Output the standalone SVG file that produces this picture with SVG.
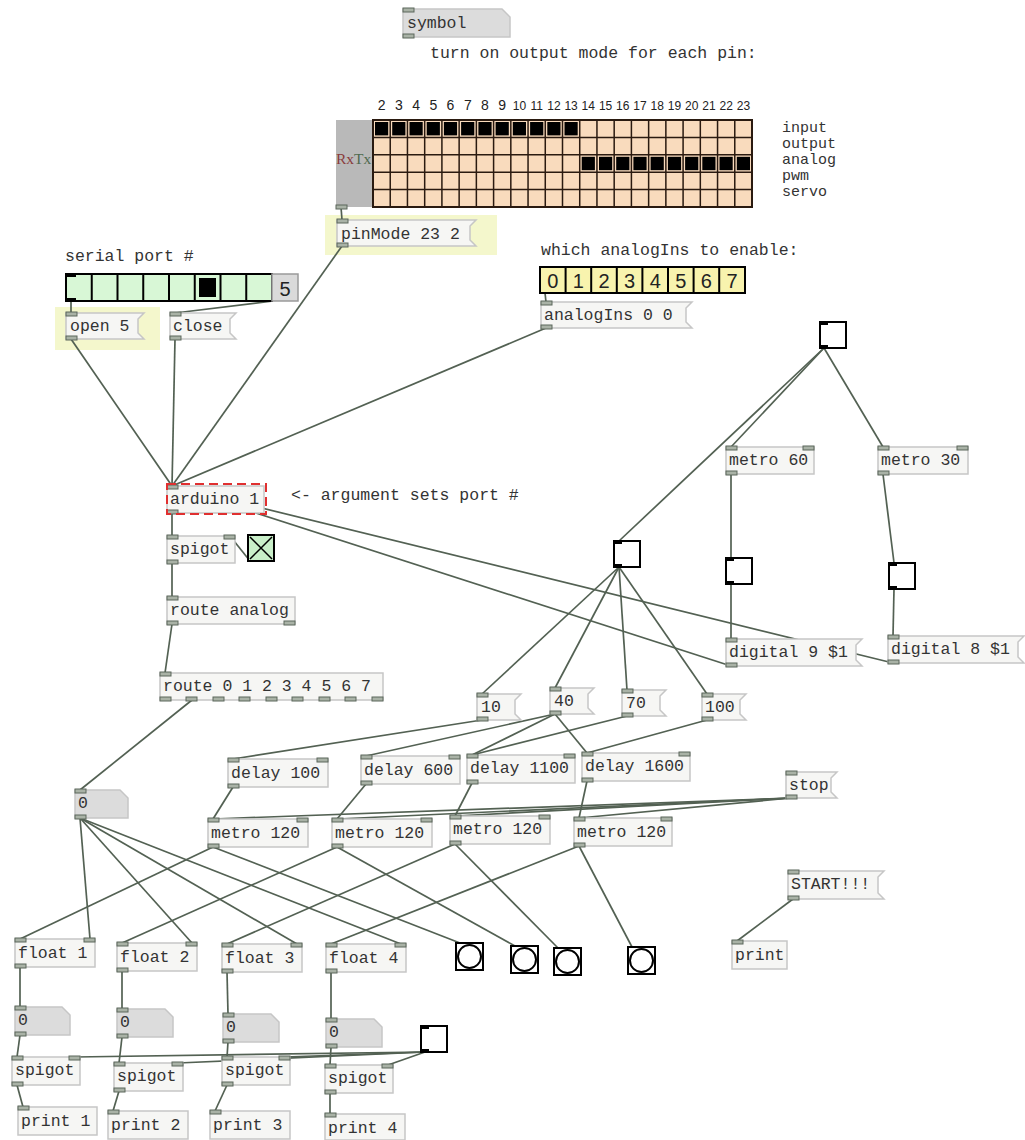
<svg xmlns="http://www.w3.org/2000/svg" width="1025" height="1140" viewBox="0 0 1025 1140">
<style>
.obj{fill:#f6f6f4;stroke:#c6c6c6;stroke-width:1.5}
.atom{fill:#dcdcdc;stroke:#c6c6c6;stroke-width:1.5}
.io{fill:#a9b2a6;stroke:#5b665b;stroke-width:1}
.c{stroke:#536153;stroke-width:1.7;fill:none}
.t{font-family:"Liberation Mono",monospace;font-size:16.5px;fill:#333}
.lb{font-family:"Liberation Mono",monospace;font-size:15px;fill:#333}
.s{font-family:"Liberation Sans",Arial,sans-serif;fill:#222}
.tg{fill:#fff;stroke:#000;stroke-width:2}
.mk{fill:#000}
.hl{fill:#f4f7cc}
</style>
<rect width="1025" height="1140" fill="#fff"/>

<!-- highlights -->
<rect class="hl" x="325" y="215" width="172" height="40"/>
<rect class="hl" x="55" y="307" width="105" height="43"/>

<!-- connectors -->
<g id="connectors">
<line class="c" x1="341" y1="207" x2="342" y2="220"/>
<line class="c" x1="71" y1="301" x2="71" y2="313"/>
<line class="c" x1="273" y1="301" x2="175" y2="313"/>
<line class="c" x1="545" y1="293" x2="546" y2="302"/>
<line class="c" x1="71" y1="339" x2="172" y2="486"/>
<line class="c" x1="175" y1="339" x2="172" y2="486"/>
<line class="c" x1="342" y1="246" x2="172" y2="486"/>
<line class="c" x1="546" y1="328" x2="172" y2="486"/>
<line class="c" x1="731" y1="666" x2="172" y2="486"/>
<line class="c" x1="893" y1="663" x2="172" y2="486"/>
<line class="c" x1="172" y1="513" x2="172" y2="536"/>
<line class="c" x1="250" y1="561" x2="230" y2="536"/>
<line class="c" x1="172" y1="563" x2="172" y2="597"/>
<line class="c" x1="172" y1="624" x2="165" y2="673"/>
<line class="c" x1="192" y1="700" x2="80" y2="790"/>
<line class="c" x1="824" y1="348" x2="731" y2="447"/>
<line class="c" x1="824" y1="348" x2="883" y2="447"/>
<line class="c" x1="824" y1="348" x2="619" y2="541"/>
<line class="c" x1="731" y1="474" x2="731" y2="558"/>
<line class="c" x1="731" y1="584" x2="731" y2="639"/>
<line class="c" x1="883" y1="474" x2="894" y2="563"/>
<line class="c" x1="894" y1="589" x2="893" y2="636"/>
<line class="c" x1="619" y1="567" x2="482" y2="694"/>
<line class="c" x1="619" y1="567" x2="555" y2="688"/>
<line class="c" x1="619" y1="567" x2="627" y2="690"/>
<line class="c" x1="619" y1="567" x2="707" y2="694"/>
<line class="c" x1="482" y1="720" x2="233" y2="759"/>
<line class="c" x1="555" y1="714" x2="366" y2="756"/>
<line class="c" x1="555" y1="714" x2="472" y2="755"/>
<line class="c" x1="555" y1="714" x2="587" y2="753"/>
<line class="c" x1="627" y1="716" x2="472" y2="755"/>
<line class="c" x1="707" y1="720" x2="587" y2="753"/>
<line class="c" x1="233" y1="787" x2="213" y2="819"/>
<line class="c" x1="366" y1="784" x2="337" y2="819"/>
<line class="c" x1="472" y1="783" x2="455" y2="816"/>
<line class="c" x1="587" y1="781" x2="579" y2="818"/>
<line class="c" x1="791" y1="798" x2="213" y2="819"/>
<line class="c" x1="791" y1="798" x2="337" y2="819"/>
<line class="c" x1="791" y1="798" x2="455" y2="816"/>
<line class="c" x1="791" y1="798" x2="579" y2="818"/>
<line class="c" x1="213" y1="847" x2="20" y2="939"/>
<line class="c" x1="213" y1="847" x2="460" y2="943"/>
<line class="c" x1="337" y1="847" x2="122" y2="943"/>
<line class="c" x1="337" y1="847" x2="515" y2="946"/>
<line class="c" x1="455" y1="844" x2="227" y2="944"/>
<line class="c" x1="455" y1="844" x2="558" y2="948"/>
<line class="c" x1="579" y1="846" x2="331" y2="944"/>
<line class="c" x1="579" y1="846" x2="632" y2="947"/>
<line class="c" x1="80" y1="818" x2="90" y2="939"/>
<line class="c" x1="80" y1="818" x2="192" y2="943"/>
<line class="c" x1="80" y1="818" x2="297" y2="944"/>
<line class="c" x1="80" y1="818" x2="401" y2="944"/>
<line class="c" x1="20" y1="967" x2="20" y2="1007"/>
<line class="c" x1="122" y1="971" x2="122" y2="1009"/>
<line class="c" x1="227" y1="972" x2="228" y2="1014"/>
<line class="c" x1="331" y1="972" x2="331" y2="1019"/>
<line class="c" x1="20" y1="1035" x2="17" y2="1057"/>
<line class="c" x1="122" y1="1037" x2="119" y2="1063"/>
<line class="c" x1="228" y1="1042" x2="227" y2="1057"/>
<line class="c" x1="331" y1="1047" x2="330" y2="1065"/>
<line class="c" x1="425" y1="1052" x2="75" y2="1057"/>
<line class="c" x1="425" y1="1052" x2="178" y2="1063"/>
<line class="c" x1="425" y1="1052" x2="285" y2="1057"/>
<line class="c" x1="425" y1="1052" x2="388" y2="1065"/>
<line class="c" x1="17" y1="1085" x2="23" y2="1107"/>
<line class="c" x1="119" y1="1091" x2="113" y2="1111"/>
<line class="c" x1="227" y1="1085" x2="215" y2="1111"/>
<line class="c" x1="330" y1="1093" x2="330" y2="1114"/>
<line class="c" x1="793" y1="899" x2="737" y2="941"/>
</g>

<!-- symbol atom -->
<g id="symbol">
<polygon class="atom" points="403,9 502,9 510,17 510,37 403,37"/>
<rect class="io" x="403" y="8" width="11" height="4"/>
<rect class="io" x="403" y="34" width="11" height="4"/>
<text class="t" x="407" y="28">symbol</text>
</g>
<text class="t" x="430" y="58">turn on output mode for each pin:</text>

<!-- pin grid -->
<g id="pingrid">
<g class="s" font-size="14" text-anchor="middle">
<text x="381.6" y="110">2</text><text x="398.8" y="110">3</text><text x="416.1" y="110">4</text><text x="433.3" y="110">5</text><text x="450.5" y="110">6</text><text x="467.8" y="110">7</text><text x="485.0" y="110">8</text><text x="502.2" y="110">9</text>
</g>
<g class="s" font-size="12" text-anchor="middle">
<text x="519.4" y="110">10</text><text x="536.7" y="110">11</text><text x="553.9" y="110">12</text><text x="571.1" y="110">13</text><text x="588.3" y="110">14</text><text x="605.6" y="110">15</text><text x="622.8" y="110">16</text><text x="640.0" y="110">17</text><text x="657.3" y="110">18</text><text x="674.5" y="110">19</text><text x="691.7" y="110">20</text><text x="708.9" y="110">21</text><text x="726.2" y="110">22</text><text x="743.4" y="110">23</text>
</g>
<rect x="336" y="120" width="37" height="87" fill="#b9b9b9"/>
<text x="336" y="164" font-family="'Liberation Serif',serif" font-size="15.5"><tspan fill="#8a3c3c">Rx</tspan><tspan fill="#4f6a4f">Tx</tspan></text>
<rect x="373" y="120" width="379" height="87" fill="#f9dbbd"/>
<g fill="#000">
<rect x="375" y="122" width="13.2" height="13.4"/><rect x="392.2" y="122" width="13.2" height="13.4"/><rect x="409.5" y="122" width="13.2" height="13.4"/><rect x="426.7" y="122" width="13.2" height="13.4"/><rect x="443.9" y="122" width="13.2" height="13.4"/><rect x="461.1" y="122" width="13.2" height="13.4"/><rect x="478.4" y="122" width="13.2" height="13.4"/><rect x="495.6" y="122" width="13.2" height="13.4"/><rect x="512.8" y="122" width="13.2" height="13.4"/><rect x="530.1" y="122" width="13.2" height="13.4"/><rect x="547.3" y="122" width="13.2" height="13.4"/><rect x="564.5" y="122" width="13.2" height="13.4"/>
<rect x="581.7" y="156.8" width="13.2" height="13.4"/><rect x="599" y="156.8" width="13.2" height="13.4"/><rect x="616.2" y="156.8" width="13.2" height="13.4"/><rect x="633.4" y="156.8" width="13.2" height="13.4"/><rect x="650.6" y="156.8" width="13.2" height="13.4"/><rect x="667.9" y="156.8" width="13.2" height="13.4"/><rect x="685.1" y="156.8" width="13.2" height="13.4"/><rect x="702.3" y="156.8" width="13.2" height="13.4"/><rect x="719.5" y="156.8" width="13.2" height="13.4"/><rect x="736.8" y="156.8" width="13.2" height="13.4"/>
</g>
<path d="M390.23 120V207M407.45 120V207M424.68 120V207M441.91 120V207M459.14 120V207M476.36 120V207M493.59 120V207M510.82 120V207M528.05 120V207M545.27 120V207M562.5 120V207M579.73 120V207M596.95 120V207M614.18 120V207M631.41 120V207M648.64 120V207M665.86 120V207M683.09 120V207M700.32 120V207M717.55 120V207M734.77 120V207M373 137.4H752M373 154.8H752M373 172.2H752M373 189.6H752" stroke="#2a1a10" stroke-width="1.5" fill="none"/>
<rect x="373" y="120" width="379" height="87" fill="none" stroke="#2a1a10" stroke-width="2"/>
<rect class="io" x="336" y="205" width="11" height="4"/>
</g>
<g class="lb">
<text x="782" y="132">input</text>
<text x="782" y="148">output</text>
<text x="782" y="164">analog</text>
<text x="782" y="180">pwm</text>
<text x="782" y="196">servo</text>
</g>

<!-- pinMode -->
<g id="pinMode">
<polygon class="obj" points="337,220 476,220 470,226 470,240 476,246 337,246"/>
<rect class="io" x="337" y="219" width="11" height="4"/>
<rect class="io" x="337" y="243" width="11" height="4"/>
<text class="t" x="341" y="239">pinMode 23 2</text>
</g>

<!-- serial port -->
<text class="t" x="65" y="261">serial port #</text>
<g id="radio">
<rect x="66" y="274" width="206" height="27" fill="#d8f7d6" stroke="#000" stroke-width="2"/>
<path d="M91.75 274V301M117.5 274V301M143.25 274V301M169 274V301M194.75 274V301M220.5 274V301M246.25 274V301" stroke="#000" stroke-width="2"/>
<rect x="199" y="278" width="17" height="19" fill="#000"/>
<rect class="mk" x="66" y="274" width="10" height="3"/>
<rect class="mk" x="66" y="298" width="10" height="3"/>
</g>
<g id="numbox">
<rect x="272" y="274" width="26" height="27" fill="#dadada" stroke="#9a9a9a" stroke-width="1.5"/>
<text class="s" x="285" y="296" font-size="20" text-anchor="middle">5</text>
</g>
<g id="open">
<polygon class="obj" points="66,313 144,313 138,319 138,333 144,339 66,339"/>
<rect class="io" x="66" y="312" width="11" height="4"/>
<rect class="io" x="66" y="336" width="11" height="4"/>
<text class="t" x="70" y="331">open 5</text>
</g>
<g id="close">
<polygon class="obj" points="170,313 236,313 230,319 230,333 236,339 170,339"/>
<rect class="io" x="170" y="312" width="11" height="4"/>
<rect class="io" x="170" y="336" width="11" height="4"/>
<text class="t" x="173" y="331">close</text>
</g>

<!-- analogIns -->
<text class="t" x="541" y="255">which analogIns to enable:</text>
<g id="analogToggles">
<rect x="540" y="267" width="205" height="26" fill="#f8f3ae" stroke="#000" stroke-width="2"/>
<path d="M565.6 267V293M591.2 267V293M616.8 267V293M642.4 267V293M668 267V293M693.6 267V293M719.2 267V293" stroke="#000" stroke-width="2"/>
<g class="s" font-size="20" text-anchor="middle">
<text x="552.8" y="288">0</text><text x="578.4" y="288">1</text><text x="604" y="288">2</text><text x="629.6" y="288">3</text><text x="655.2" y="288">4</text><text x="680.8" y="288">5</text><text x="706.4" y="288">6</text><text x="732" y="288">7</text>
</g>
</g>
<g id="analogIns">
<polygon class="obj" points="541,302 692,302 686,308 686,322 692,328 541,328"/>
<rect class="io" x="541" y="301" width="11" height="4"/>
<rect class="io" x="541" y="325" width="11" height="4"/>
<text class="t" x="544" y="320">analogIns 0 0</text>
</g>
<g id="toggleTop">
<rect class="tg" x="820" y="322" width="26" height="26"/>
<rect class="mk" x="820" y="322" width="8" height="3"/>
<rect class="mk" x="820" y="345" width="8" height="3"/>
</g>

<!-- arduino -->
<g id="arduino">
<rect class="obj" x="167" y="486" width="97" height="27"/>
<rect class="io" x="167" y="485" width="11" height="4"/>
<rect class="io" x="167" y="510" width="11" height="4"/>
<text class="t" x="170" y="504">arduino 1</text>
<rect x="167" y="484" width="99" height="30" fill="none" stroke="#e03030" stroke-width="2" stroke-dasharray="9,5"/>
</g>
<text class="t" x="291" y="500">&lt;- argument sets port #</text>

<g id="spigot0">
<rect class="obj" x="167" y="536" width="68" height="27"/>
<rect class="io" x="167" y="535" width="11" height="4"/>
<rect class="io" x="224" y="535" width="11" height="4"/>
<rect class="io" x="167" y="560" width="11" height="4"/>
<text class="t" x="170" y="554">spigot</text>
</g>
<g id="toggleX">
<rect x="248" y="535" width="26" height="26" fill="#c9efc9" stroke="#000" stroke-width="2"/>
<path d="M250 537L272 559M272 537L250 559" stroke="#000" stroke-width="1.5"/>
</g>
<g id="routeAnalog">
<rect class="obj" x="167" y="597" width="128" height="27"/>
<rect class="io" x="167" y="596" width="11" height="4"/>
<rect class="io" x="167" y="621" width="11" height="4"/>
<rect class="io" x="284" y="621" width="11" height="4"/>
<text class="t" x="170" y="615">route analog</text>
</g>
<g id="route">
<rect class="obj" x="160" y="673" width="223" height="27"/>
<rect class="io" x="160" y="672" width="11" height="4"/>
<rect class="io" x="160" y="697" width="11" height="4"/>
<rect class="io" x="186" y="697" width="11" height="4"/>
<rect class="io" x="213" y="697" width="11" height="4"/>
<rect class="io" x="239" y="697" width="11" height="4"/>
<rect class="io" x="266" y="697" width="11" height="4"/>
<rect class="io" x="292" y="697" width="11" height="4"/>
<rect class="io" x="319" y="697" width="11" height="4"/>
<rect class="io" x="345" y="697" width="11" height="4"/>
<rect class="io" x="372" y="697" width="11" height="4"/>
<text class="t" x="163" y="691">route 0 1 2 3 4 5 6 7</text>
</g>

<!-- right side -->
<g id="metro60">
<rect class="obj" x="726" y="447" width="88" height="27"/>
<rect class="io" x="726" y="446" width="11" height="4"/>
<rect class="io" x="803" y="446" width="11" height="4"/>
<rect class="io" x="726" y="471" width="11" height="4"/>
<text class="t" x="729" y="465">metro 60</text>
</g>
<g id="metro30">
<rect class="obj" x="878" y="447" width="90" height="27"/>
<rect class="io" x="878" y="446" width="11" height="4"/>
<rect class="io" x="957" y="446" width="11" height="4"/>
<rect class="io" x="878" y="471" width="11" height="4"/>
<text class="t" x="881" y="465">metro 30</text>
</g>
<g id="toggle60">
<rect class="tg" x="726" y="558" width="26" height="26"/>
<rect class="mk" x="726" y="558" width="8" height="3"/>
<rect class="mk" x="726" y="581" width="8" height="3"/>
</g>
<g id="toggle30">
<rect class="tg" x="889" y="563" width="26" height="26"/>
<rect class="mk" x="889" y="563" width="8" height="3"/>
<rect class="mk" x="889" y="586" width="8" height="3"/>
</g>
<g id="digital9">
<polygon class="obj" points="726,639 862,639 856,645 856,660 862,666 726,666"/>
<rect class="io" x="726" y="638" width="11" height="4"/>
<rect class="io" x="726" y="663" width="11" height="4"/>
<text class="t" x="729" y="657">digital 9 $1</text>
</g>
<g id="digital8">
<polygon class="obj" points="888,636 1024,636 1018,642 1018,657 1024,663 888,663"/>
<rect class="io" x="888" y="635" width="11" height="4"/>
<rect class="io" x="888" y="660" width="11" height="4"/>
<text class="t" x="891" y="654">digital 8 $1</text>
</g>
<g id="toggleCenter">
<rect class="tg" x="614" y="541" width="26" height="26"/>
<rect class="mk" x="614" y="541" width="8" height="3"/>
<rect class="mk" x="614" y="564" width="8" height="3"/>
</g>

<!-- messages 10 40 70 100 -->
<g id="m10">
<polygon class="obj" points="477,694 521,694 515,700 515,714 521,720 477,720"/>
<rect class="io" x="477" y="693" width="11" height="4"/>
<rect class="io" x="477" y="717" width="11" height="4"/>
<text class="t" x="481" y="712">10</text>
</g>
<g id="m40">
<polygon class="obj" points="550,688 594,688 588,694 588,708 594,714 550,714"/>
<rect class="io" x="550" y="687" width="11" height="4"/>
<rect class="io" x="550" y="711" width="11" height="4"/>
<text class="t" x="554" y="706">40</text>
</g>
<g id="m70">
<polygon class="obj" points="622,690 666,690 660,696 660,710 666,716 622,716"/>
<rect class="io" x="622" y="689" width="11" height="4"/>
<rect class="io" x="622" y="713" width="11" height="4"/>
<text class="t" x="626" y="708">70</text>
</g>
<g id="m100">
<polygon class="obj" points="702,694 746,694 740,700 740,714 746,720 702,720"/>
<rect class="io" x="702" y="693" width="11" height="4"/>
<rect class="io" x="702" y="717" width="11" height="4"/>
<text class="t" x="705" y="712">100</text>
</g>

<!-- delays -->
<g id="delay100">
<rect class="obj" x="228" y="759" width="100" height="28"/>
<rect class="io" x="228" y="758" width="11" height="4"/>
<rect class="io" x="317" y="758" width="11" height="4"/>
<rect class="io" x="228" y="784" width="11" height="4"/>
<text class="t" x="231" y="778">delay 100</text>
</g>
<g id="delay600">
<rect class="obj" x="361" y="756" width="99" height="28"/>
<rect class="io" x="361" y="755" width="11" height="4"/>
<rect class="io" x="449" y="755" width="11" height="4"/>
<rect class="io" x="361" y="781" width="11" height="4"/>
<text class="t" x="364" y="775">delay 600</text>
</g>
<g id="delay1100">
<rect class="obj" x="467" y="755" width="108" height="28"/>
<rect class="io" x="467" y="754" width="11" height="4"/>
<rect class="io" x="564" y="754" width="11" height="4"/>
<rect class="io" x="467" y="780" width="11" height="4"/>
<text class="t" x="470" y="773">delay 1100</text>
</g>
<g id="delay1600">
<rect class="obj" x="582" y="753" width="108" height="28"/>
<rect class="io" x="582" y="752" width="11" height="4"/>
<rect class="io" x="679" y="752" width="11" height="4"/>
<rect class="io" x="582" y="778" width="11" height="4"/>
<text class="t" x="585" y="771">delay 1600</text>
</g>
<g id="stop">
<polygon class="obj" points="786,772 837,772 831,778 831,792 837,798 786,798"/>
<rect class="io" x="786" y="771" width="11" height="4"/>
<rect class="io" x="786" y="795" width="11" height="4"/>
<text class="t" x="789" y="790">stop</text>
</g>
<g id="atom0">
<polygon class="atom" points="75,790 120,790 128,798 128,818 75,818"/>
<rect class="io" x="75" y="789" width="11" height="4"/>
<rect class="io" x="75" y="815" width="11" height="4"/>
<text class="t" x="78" y="808">0</text>
</g>

<!-- metros -->
<g id="metro1">
<rect class="obj" x="208" y="819" width="100" height="28"/>
<rect class="io" x="208" y="818" width="11" height="4"/>
<rect class="io" x="297" y="818" width="11" height="4"/>
<rect class="io" x="208" y="844" width="11" height="4"/>
<text class="t" x="211" y="838">metro 120</text>
</g>
<g id="metro2">
<rect class="obj" x="332" y="819" width="100" height="28"/>
<rect class="io" x="332" y="818" width="11" height="4"/>
<rect class="io" x="421" y="818" width="11" height="4"/>
<rect class="io" x="332" y="844" width="11" height="4"/>
<text class="t" x="335" y="838">metro 120</text>
</g>
<g id="metro3">
<rect class="obj" x="450" y="816" width="100" height="28"/>
<rect class="io" x="450" y="815" width="11" height="4"/>
<rect class="io" x="539" y="815" width="11" height="4"/>
<rect class="io" x="450" y="841" width="11" height="4"/>
<text class="t" x="453" y="834">metro 120</text>
</g>
<g id="metro4">
<rect class="obj" x="574" y="818" width="98" height="28"/>
<rect class="io" x="574" y="817" width="11" height="4"/>
<rect class="io" x="661" y="817" width="11" height="4"/>
<rect class="io" x="574" y="843" width="11" height="4"/>
<text class="t" x="577" y="837">metro 120</text>
</g>

<g id="start">
<polygon class="obj" points="788,871 884,871 878,877 878,893 884,899 788,899"/>
<rect class="io" x="788" y="870" width="11" height="4"/>
<rect class="io" x="788" y="896" width="11" height="4"/>
<text class="t" x="791" y="889">START!!!</text>
</g>
<g id="print0">
<rect class="obj" x="732" y="941" width="55" height="28"/>
<rect class="io" x="732" y="940" width="11" height="4"/>
<text class="t" x="735" y="960">print</text>
</g>

<!-- bangs -->
<g id="bang1"><rect class="tg" x="456" y="943" width="27" height="27"/><circle cx="469.5" cy="956.5" r="11.5" fill="none" stroke="#000" stroke-width="2"/></g>
<g id="bang2"><rect class="tg" x="511" y="946" width="27" height="27"/><circle cx="524.5" cy="959.5" r="11.5" fill="none" stroke="#000" stroke-width="2"/></g>
<g id="bang3"><rect class="tg" x="554" y="948" width="27" height="27"/><circle cx="567.5" cy="961.5" r="11.5" fill="none" stroke="#000" stroke-width="2"/></g>
<g id="bang4"><rect class="tg" x="628" y="947" width="27" height="27"/><circle cx="641.5" cy="960.5" r="11.5" fill="none" stroke="#000" stroke-width="2"/></g>

<!-- floats -->
<g id="float1">
<rect class="obj" x="15" y="939" width="80" height="28"/>
<rect class="io" x="15" y="938" width="11" height="4"/>
<rect class="io" x="84" y="938" width="11" height="4"/>
<rect class="io" x="15" y="964" width="11" height="4"/>
<text class="t" x="18" y="958">float 1</text>
</g>
<g id="float2">
<rect class="obj" x="117" y="943" width="80" height="28"/>
<rect class="io" x="117" y="942" width="11" height="4"/>
<rect class="io" x="186" y="942" width="11" height="4"/>
<rect class="io" x="117" y="968" width="11" height="4"/>
<text class="t" x="120" y="962">float 2</text>
</g>
<g id="float3">
<rect class="obj" x="222" y="944" width="80" height="28"/>
<rect class="io" x="222" y="943" width="11" height="4"/>
<rect class="io" x="291" y="943" width="11" height="4"/>
<rect class="io" x="222" y="969" width="11" height="4"/>
<text class="t" x="225" y="963">float 3</text>
</g>
<g id="float4">
<rect class="obj" x="326" y="944" width="80" height="28"/>
<rect class="io" x="326" y="943" width="11" height="4"/>
<rect class="io" x="395" y="943" width="11" height="4"/>
<rect class="io" x="326" y="969" width="11" height="4"/>
<text class="t" x="329" y="963">float 4</text>
</g>

<!-- atoms -->
<g id="atom1"><polygon class="atom" points="15,1007 62,1007 70,1015 70,1035 15,1035"/><rect class="io" x="15" y="1006" width="11" height="4"/><rect class="io" x="15" y="1032" width="11" height="4"/><text class="t" x="18" y="1025">0</text></g>
<g id="atom2"><polygon class="atom" points="117,1009 165,1009 173,1017 173,1037 117,1037"/><rect class="io" x="117" y="1008" width="11" height="4"/><rect class="io" x="117" y="1034" width="11" height="4"/><text class="t" x="120" y="1027">0</text></g>
<g id="atom3"><polygon class="atom" points="223,1014 271,1014 279,1022 279,1042 223,1042"/><rect class="io" x="223" y="1013" width="11" height="4"/><rect class="io" x="223" y="1039" width="11" height="4"/><text class="t" x="226" y="1032">0</text></g>
<g id="atom4"><polygon class="atom" points="326,1019 374,1019 382,1027 382,1047 326,1047"/><rect class="io" x="326" y="1018" width="11" height="4"/><rect class="io" x="326" y="1044" width="11" height="4"/><text class="t" x="329" y="1037">0</text></g>

<g id="toggleBottom">
<rect class="tg" x="421" y="1026" width="26" height="26"/>
<rect class="mk" x="421" y="1026" width="8" height="3"/>
<rect class="mk" x="421" y="1049" width="8" height="3"/>
</g>

<!-- spigots -->
<g id="spigot1"><rect class="obj" x="12" y="1057" width="68" height="28"/><rect class="io" x="12" y="1056" width="11" height="4"/><rect class="io" x="69" y="1056" width="11" height="4"/><rect class="io" x="12" y="1082" width="11" height="4"/><text class="t" x="15" y="1075">spigot</text></g>
<g id="spigot2"><rect class="obj" x="114" y="1063" width="69" height="28"/><rect class="io" x="114" y="1062" width="11" height="4"/><rect class="io" x="172" y="1062" width="11" height="4"/><rect class="io" x="114" y="1088" width="11" height="4"/><text class="t" x="117" y="1081">spigot</text></g>
<g id="spigot3"><rect class="obj" x="222" y="1057" width="68" height="28"/><rect class="io" x="222" y="1056" width="11" height="4"/><rect class="io" x="279" y="1056" width="11" height="4"/><rect class="io" x="222" y="1082" width="11" height="4"/><text class="t" x="225" y="1075">spigot</text></g>
<g id="spigot4"><rect class="obj" x="325" y="1065" width="68" height="28"/><rect class="io" x="325" y="1064" width="11" height="4"/><rect class="io" x="382" y="1064" width="11" height="4"/><rect class="io" x="325" y="1090" width="11" height="4"/><text class="t" x="328" y="1083">spigot</text></g>

<!-- prints -->
<g id="print1"><rect class="obj" x="18" y="1107" width="79" height="28"/><rect class="io" x="18" y="1106" width="11" height="4"/><text class="t" x="21" y="1126">print 1</text></g>
<g id="print2"><rect class="obj" x="108" y="1111" width="80" height="28"/><rect class="io" x="108" y="1110" width="11" height="4"/><text class="t" x="111" y="1130">print 2</text></g>
<g id="print3"><rect class="obj" x="210" y="1111" width="80" height="28"/><rect class="io" x="210" y="1110" width="11" height="4"/><text class="t" x="213" y="1130">print 3</text></g>
<g id="print4"><rect class="obj" x="325" y="1114" width="80" height="26"/><rect class="io" x="325" y="1113" width="11" height="4"/><text class="t" x="328" y="1133">print 4</text></g>
</svg>
